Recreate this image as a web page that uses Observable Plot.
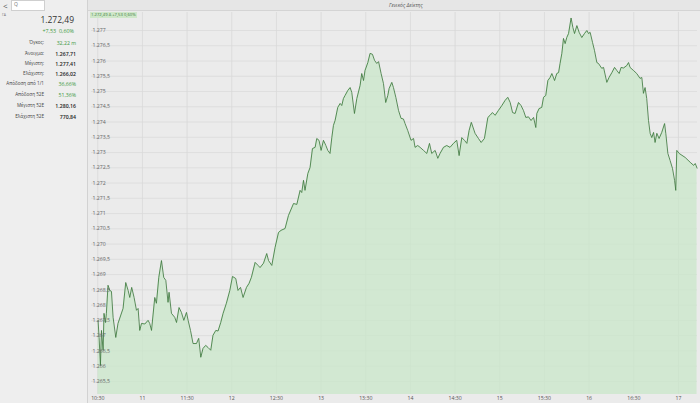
<!DOCTYPE html>
<html>
<head>
<meta charset="utf-8">
<script src="https://cdn.jsdelivr.net/npm/d3@7"></script>
<script src="https://cdn.jsdelivr.net/npm/@observablehq/plot@0.6"></script>
<style>
  html, body { margin:0; padding:0; }
  body { width:700px; height:403px; background:#ebebeb; font-family:"Open Sans", "Noto Sans", sans-serif; position:relative; overflow:hidden; }
  .abs { position:absolute; white-space:nowrap; }
  #left { position:absolute; left:0; top:0; width:88px; height:403px; background:#eeeeee; border-right:1px solid #d2d2d2; box-sizing:border-box; }
  #topbar { position:absolute; left:88px; top:0; width:612px; height:11px; background:#e6e6e6; border-bottom:1px solid #d4d4d4; box-sizing:border-box; }
  .lbl { position:absolute; right:43px; font-size:4.6px; color:#444; text-align:right; }
  .val { position:absolute; right:11px; font-size:5.2px; color:#222; text-align:right; font-weight:600; }
  .green { color:#3f9a3f; font-weight:400; }
  #chart { position:absolute; left:88px; top:11px; }
</style>
</head>
<body>
<div id="left">
  <div class="abs" style="left:3px;top:1px;font-size:8px;color:#555;line-height:9px;">&lt;</div>
  <div class="abs" style="left:11px;top:0px;width:34px;height:11px;background:#ffffff;border:1px solid #cfcfcf;box-sizing:border-box;"></div>
  <div class="abs" style="left:14px;top:1px;font-size:5px;color:#777;">Q</div>
  <div class="abs" style="left:2px;top:12px;font-size:3.5px;color:#777;">ΓΑ</div>
  <div class="abs" style="right:13px;top:14px;font-size:8.5px;color:#333;">1.272,49</div>
  <div class="abs" style="right:13px;top:27px;font-size:5.4px;color:#3f9a3f;">+7,53&nbsp; 0,60%</div>
</div>
<div id="topbar"></div>
<div class="abs" style="left:389px;top:2px;font-size:5px;color:#555;font-style:italic;">Γενικός Δείκτης</div>
<div class="abs" style="left:90px;top:12px;height:6px;line-height:6px;padding:0 1px;font-size:4.2px;color:#3a7a3a;background:#cfe7c9;z-index:2;">1.272,49 Δ +7,53 0,60%</div>
<div id="chart"></div>
<script>
// ---- data ----
const infoLabels = ["Όγκος:", "Άνοιγμα:", "Μέγιστη:", "Ελάχιστη:", "Απόδοση από 1/1", "Απόδοση 52Ε", "Μέγιστη 52Ε", "Ελάχιστη 52Ε"];
const infoValues = ["32,22 m", "1.267,71", "1.277,41", "1.266,02", "36,66%", "51,36%", "1.280,16", "770,84"];
const infoGreen  = [true, false, false, false, true, true, false, false];

// minutes after 10:30
const minutes = [0.2,0.9,1.8,2.5,3.6,4.2,5.2,5.8,6.9,8.1,9.2,10.3,12.1,13.6,17.0,18.8,20.4,21.5,22.8,24.4,26.0,27.1,28.2,29.4,31.6,33.8,34.9,36.1,38.3,39.4,41.0,42.8,44.3,45.7,47.2,47.9,49.5,51.7,52.9,54.6,56.2,57.8,59.6,60.7,62.3,64.0,66.3,67.8,69.2,70.7,72.5,74.1,75.9,77.4,79.3,80.8,82.6,84.2,86.4,88.7,90.5,92.7,94.2,95.9,97.6,99.9,101.6,103.2,105.7,107.7,109.0,111.3,113.5,114.7,116.9,119.1,121.4,123.1,125.8,128.1,131.5,133.7,135.9,137.0,138.2,139.2,141.1,142.6,144.2,146.0,147.1,148.6,150.0,151.6,153.2,154.5,156.0,157.2,158.3,159.4,161.2,162.8,163.9,165.0,166.1,167.9,169.5,170.6,172.4,174.0,176.2,177.3,178.5,179.5,181.4,182.9,184.5,185.9,187.4,188.6,190.3,191.9,193.4,194.8,195.7,197.5,198.6,200.2,202.0,203.7,205.3,206.4,208.2,210.4,212.1,213.1,214.9,216.5,218.8,221.0,222.8,224.3,226.6,228.4,229.9,232.2,234.4,236.6,238.9,241.1,242.7,244.5,246.3,247.9,249.4,250.9,253.4,255.7,257.5,259.7,262.0,263.5,265.1,266.9,269.1,271.4,273.6,275.4,277.0,278.6,280.3,282.6,284.3,285.9,287.5,289.3,291.0,292.7,294.2,294.9,296.4,298.2,299.4,300.9,302.3,303.8,305.0,306.8,308.3,309.5,310.5,311.7,312.8,313.9,315.0,316.2,317.9,319.1,320.2,321.8,323.3,325.1,326.9,328.5,329.6,330.7,332.3,333.6,335.2,336.3,338.5,339.7,341.9,343.4,345.3,347.1,348.6,350.2,351.5,353.1,355.3,356.5,357.5,359.8,362.0,364.2,365.4,366.5,367.6,368.7,369.9,371.0,372.1,373.3,374.3,375.5,377.0,378.8,380.7,381.5,382.9,384.4,386.0,387.4,388.2,388.9,390.5,394.5,397.9,400.2,401.3,402.5];
const values = [1267.50,1266.94,1266.02,1267.17,1266.52,1267.73,1267.43,1267.73,1268.65,1268.48,1268.45,1267.60,1266.94,1267.40,1267.89,1268.74,1268.48,1268.25,1268.58,1268.25,1267.83,1267.89,1267.17,1267.40,1267.38,1267.50,1267.40,1267.17,1268.25,1268.06,1268.91,1269.46,1268.91,1268.81,1268.09,1268.42,1267.73,1267.60,1267.43,1267.92,1267.76,1267.50,1267.76,1267.50,1267.17,1266.74,1266.74,1266.91,1266.29,1266.58,1266.68,1266.61,1266.52,1267.01,1267.17,1267.15,1267.43,1267.73,1268.06,1268.48,1268.94,1268.87,1268.48,1268.58,1268.25,1268.58,1268.71,1268.91,1269.40,1269.30,1269.23,1269.37,1269.69,1269.46,1269.30,1269.89,1270.38,1270.45,1270.51,1270.94,1271.33,1271.30,1271.76,1271.69,1272.09,1271.76,1272.31,1272.51,1273.13,1273.17,1273.46,1273.40,1273.07,1273.40,1273.23,1273.07,1272.97,1273.49,1273.89,1274.05,1274.48,1274.61,1274.54,1274.77,1274.87,1275.03,1275.13,1274.97,1274.28,1274.77,1275.20,1275.59,1275.36,1275.69,1275.95,1276.25,1276.22,1276.02,1275.92,1275.98,1275.59,1275.26,1274.64,1274.87,1275.10,1275.30,1275.13,1274.81,1274.38,1274.12,1274.10,1273.95,1273.72,1273.40,1273.46,1273.17,1273.23,1273.17,1273.07,1272.97,1273.30,1272.97,1273.07,1272.81,1272.97,1273.17,1273.23,1273.17,1273.30,1273.40,1272.90,1273.49,1273.40,1273.30,1273.72,1273.99,1273.63,1273.46,1273.33,1273.46,1274.15,1274.22,1274.31,1274.22,1274.38,1274.54,1274.71,1274.81,1274.64,1274.31,1274.28,1274.64,1274.54,1274.38,1274.15,1274.17,1274.05,1274.15,1273.82,1274.28,1274.44,1274.48,1274.81,1274.87,1275.36,1275.46,1275.59,1275.36,1275.59,1275.62,1275.92,1276.25,1276.74,1276.57,1276.77,1276.90,1277.41,1277.10,1276.90,1277.16,1276.94,1276.77,1276.90,1277.00,1276.90,1276.94,1276.61,1276.35,1275.95,1275.92,1275.76,1275.79,1275.30,1275.46,1275.62,1275.79,1275.69,1275.59,1275.79,1275.77,1275.85,1275.95,1275.79,1275.69,1275.59,1275.43,1275.46,1274.94,1275.13,1274.77,1274.05,1273.63,1273.49,1273.66,1273.33,1273.63,1273.46,1273.66,1273.95,1273.63,1272.97,1272.74,1272.48,1272.09,1271.76,1273.07,1272.97,1272.84,1272.68,1272.58,1272.64,1272.49];

const xTickTimes  = ["10:30","11:00","11:30","12:00","12:30","13:00","13:30","14:00","14:30","15:00","15:30","16:00","16:30","17:00"];
const xTickLabels = ["10:30","11","11:30","12","12:30","13","13:30","14","14:30","15","15:30","16","16:30","17"];
const yTicks      = [1265.5,1266,1266.5,1267,1267.5,1268,1268.5,1269,1269.5,1270,1270.5,1271,1271.5,1272,1272.5,1273,1273.5,1274,1274.5,1275,1275.5,1276,1276.5,1277];
const yTickLabels = ["1.265,5","1.266","1.266,5","1.267","1.267,5","1.268","1.268,5","1.269","1.269,5","1.270","1.270,5","1.271","1.271,5","1.272","1.272,5","1.273","1.273,5","1.274","1.274,5","1.275","1.275,5","1.276","1.276,5","1.277"];

// ---- left info panel ----
const left = document.getElementById("left");
const rowTops = [39, 50, 60, 70, 80, 91, 102, 113];
infoLabels.forEach((l, i) => {
  const a = document.createElement("div");
  a.className = "lbl"; a.style.top = rowTops[i] + "px"; a.textContent = l;
  left.appendChild(a);
  const b = document.createElement("div");
  b.className = "val" + (infoGreen[i] ? " green" : ""); b.style.top = (rowTops[i] - 0.5) + "px"; b.textContent = infoValues[i];
  left.appendChild(b);
});

// ---- chart ----
const base = new Date(2021, 0, 4, 10, 30, 0);
const toDate = m => new Date(base.getTime() + m * 60000);
const parseHM = s => { const [h, m] = s.split(":").map(Number); return new Date(2021, 0, 4, h, m, 0); };
const data = minutes.map((m, i) => ({ t: toDate(m), v: values[i] }));
const xTicks = xTickTimes.map(parseHM);
const yMin = 1265.07, yMax = 1277.59;

const chart = Plot.plot({
  width: 612,
  height: 392,
  marginLeft: 3,
  marginRight: 3,
  marginTop: 1,
  marginBottom: 9,
  style: { background: "transparent", fontFamily: "'Open Sans', sans-serif", overflow: "visible" },
  x: { type: "time", domain: [toDate(-4.2), toDate(402.8)], axis: null },
  y: { domain: [yMin, yMax], axis: null },
  marks: [
    Plot.ruleY(yTicks, { stroke: "#dadada", strokeWidth: 0.8 }),
    Plot.ruleX(xTicks, { stroke: "#d8d8d8", strokeWidth: 0.8 }),
    Plot.areaY(data, { x: "t", y1: yMin, y2: "v", fill: "#c9e7c9", fillOpacity: 0.75 }),
    Plot.lineY(data, { x: "t", y: "v", stroke: "#3f7a3f", strokeWidth: 0.85 }),
    Plot.text(yTicks, { y: d => d, text: (d, i) => yTickLabels[i], frameAnchor: "left", textAnchor: "start", dx: 1, fontSize: 5.2, fill: "#666" }),
    Plot.text(xTicks, { x: d => d, text: (d, i) => xTickLabels[i], frameAnchor: "bottom", dy: 5, fontSize: 5.2, fill: "#555" })
  ]
});
document.getElementById("chart").appendChild(chart);
</script>
</body>
</html>
